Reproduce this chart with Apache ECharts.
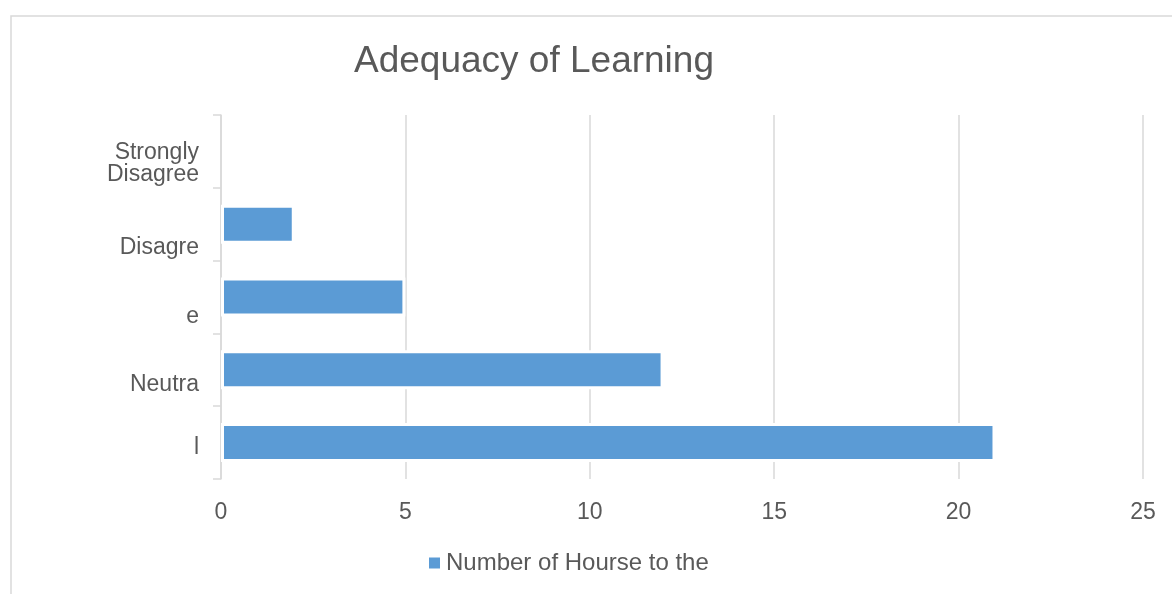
<!DOCTYPE html>
<html>
<head>
<meta charset="utf-8">
<script src="https://cdn.jsdelivr.net/npm/echarts@6/dist/echarts.min.js"></script>
<style>
  html, body { margin: 0; padding: 0; background: #ffffff; }
  #chart { width: 1172px; height: 594px; }
</style>
</head>
<body>
<div id="chart"></div>
<script>
// ---- data ----
const titleText = 'Adequacy of Learning';
const seriesName = 'Number of Hourse to the';
const categories = ['Strongly\nDisagree', 'Disagre', 'e', 'Neutra', 'l'];
const values = [0, 2, 5, 12, 21];
const xTicks = [0, 5, 10, 15, 20, 25];

// ---- style helpers (not data) ----
const labelShift = [12, 23, 20, 15, 5];
const FONT = '"Liberation Sans", Arial, sans-serif';
const GREY = '#595959';
const LINE = '#d9d9d9';
const TICK_FS = 23;

const ctx = document.createElement('canvas').getContext('2d');
ctx.font = '37px "Liberation Sans"';
const titleW = ctx.measureText(titleText).width;

const rich = { n: { fontFamily: FONT, fontSize: TICK_FS, lineHeight: 22, color: GREY } };
labelShift.forEach((s, i) => {
  rich['sp' + i] = { fontFamily: FONT, fontSize: 1, lineHeight: 2 * s, color: 'rgba(0,0,0,0)' };
});

const chart = echarts.init(document.getElementById('chart'), null, { renderer: 'canvas' });
chart.setOption({
  backgroundColor: '#ffffff',
  animation: false,
  title: {
    text: titleText,
    left: 534 - titleW / 2,
    top: 43,
    padding: 0,
    textStyle: { fontFamily: FONT, fontSize: 37, fontWeight: 'normal', color: GREY }
  },
  legend: {
    data: [seriesName],
    left: 427,
    top: 551,
    padding: 0,
    icon: 'rect',
    itemWidth: 13,
    itemHeight: 13,
    itemGap: 6,
    textStyle: { fontFamily: FONT, fontSize: 24, color: GREY }
  },
  grid: { left: 221, right: 29, top: 115, bottom: 115, containLabel: false },
  xAxis: {
    type: 'value',
    min: xTicks[0],
    max: xTicks[xTicks.length - 1],
    interval: xTicks[1] - xTicks[0],
    axisLine: { show: false },
    axisTick: { show: false },
    splitLine: { show: true, lineStyle: { color: LINE, width: 1.5 } },
    axisLabel: { fontFamily: FONT, fontSize: TICK_FS, color: GREY, margin: 22 }
  },
  yAxis: {
    type: 'category',
    inverse: true,
    data: categories,
    axisLine: { show: true, lineStyle: { color: LINE, width: 1.5 } },
    axisTick: { show: true, length: 8, lineStyle: { color: LINE, width: 1.5 } },
    splitLine: { show: false },
    axisLabel: {
      fontFamily: FONT, fontSize: TICK_FS, lineHeight: 22, color: GREY, margin: 22,
      formatter: (v, i) => '{sp' + i + '| }\n' + v.split('\n').map(s => '{n|' + s + '}').join('\n'),
      rich: rich
    }
  },
  series: [{
    name: seriesName,
    type: 'bar',
    barWidth: 39,
    data: values.map(v => v === 0 ? { value: v, itemStyle: { borderWidth: 0 } } : v),
    itemStyle: { color: '#5b9bd5', borderColor: '#ffffff', borderWidth: 3 }
  }],
  graphic: [{
    type: 'rect',
    silent: true,
    z: -1,
    shape: { x: 11, y: 16, width: 1400, height: 800 },
    style: { fill: 'none', stroke: LINE, lineWidth: 1.5 }
  }]
});
</script>
</body>
</html>
